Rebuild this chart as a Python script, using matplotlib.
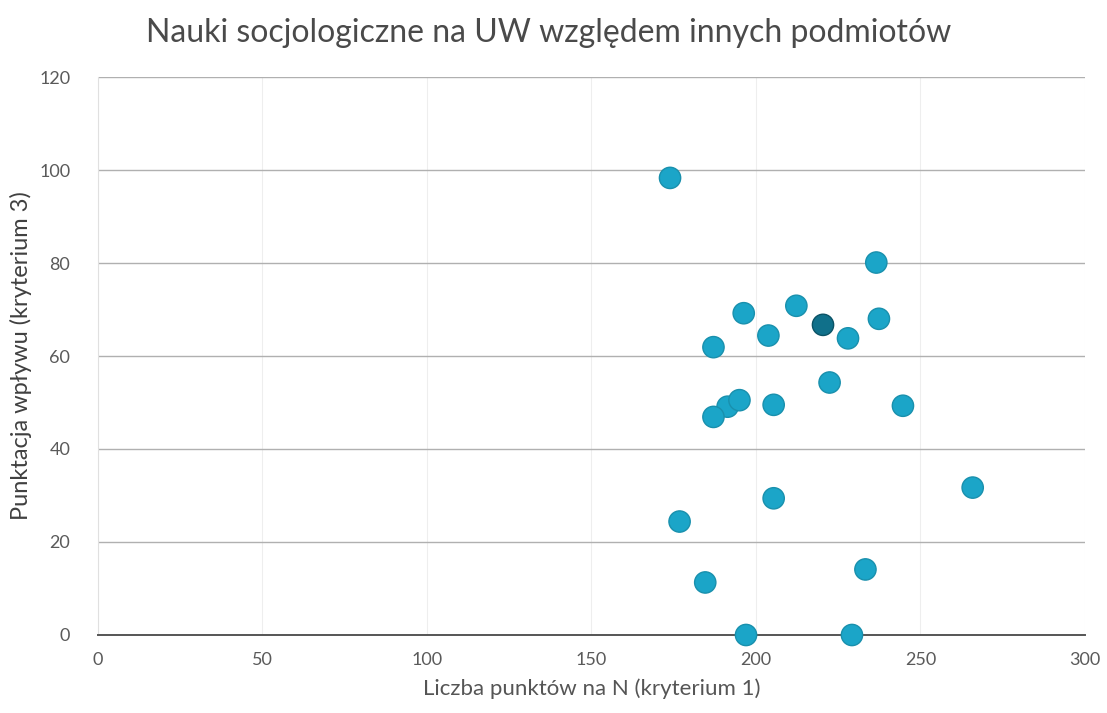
import numpy as np
import matplotlib
matplotlib.use('Agg')
import matplotlib.pyplot as plt

# values
x_pts = [173.9, 236.6, 196.3, 212.3, 220.4, 203.8, 228.0, 237.4, 187.1, 222.4,
         191.4, 195.0, 205.4, 244.7, 187.1, 176.8, 205.4, 265.9, 184.6, 233.3,
         197.0, 229.2]
y_pts = [98.3, 80.1, 69.2, 70.8, 66.7, 64.4, 63.8, 68.0, 61.9, 54.3,
         49.1, 50.5, 49.5, 49.3, 46.9, 24.4, 29.4, 31.7, 11.3, 14.1,
         0.0, 0.0]
highlight = 4   # the one darker dot

xticks = [0, 50, 100, 150, 200, 250, 300]
yticks = [0, 20, 40, 60, 80, 100, 120]

title = 'Nauki socjologiczne na UW względem innych podmiotów'
xlabel = 'Liczba punktów na N (kryterium 1)'
ylabel = 'Punktacja wpływu (kryterium 3)'

plt.rcParams['font.family'] = ['Lato', 'DejaVu Sans']

fig = plt.figure(figsize=(11.07, 7.13), dpi=100)
ax = fig.add_axes([0.0885, 0.1094, 0.8915, 0.7826])

colors = ['#1ba5c8'] * len(x_pts)
edges = ['#1990ad'] * len(x_pts)
colors[highlight] = '#10708a'
edges[highlight] = '#0b5366'
ax.scatter(x_pts, y_pts, s=235, c=colors, edgecolors=edges, linewidths=1.0,
           zorder=3, clip_on=False)

ax.set_xlim(0, 300)
ax.set_ylim(0, 120)
ax.set_xticks(xticks)
ax.set_yticks(yticks)
ax.tick_params(length=0, labelsize=13, colors='#5a5a5a', pad=12)
ax.tick_params(axis='y', pad=20)

ax.grid(axis='y', color='#b0b0b0', linewidth=1.0)
ax.grid(axis='x', color='#eeeeee', linewidth=0.8)
ax.set_axisbelow(True)
for s in ['top', 'right']:
    ax.spines[s].set_visible(False)
ax.spines['left'].set_color('#e0e0e0')
ax.spines['bottom'].set_color('#555555')
ax.spines['bottom'].set_linewidth(1.4)

fig.text(0.496, 0.954, title, fontsize=23, color='#4a4a4a',
         ha='center', va='center')
ax.set_xlabel(xlabel, fontsize=16, color='#555555', labelpad=8)
ax.set_ylabel(ylabel, fontsize=17, color='#404040', labelpad=5)

fig.savefig('out.png', dpi=100)
